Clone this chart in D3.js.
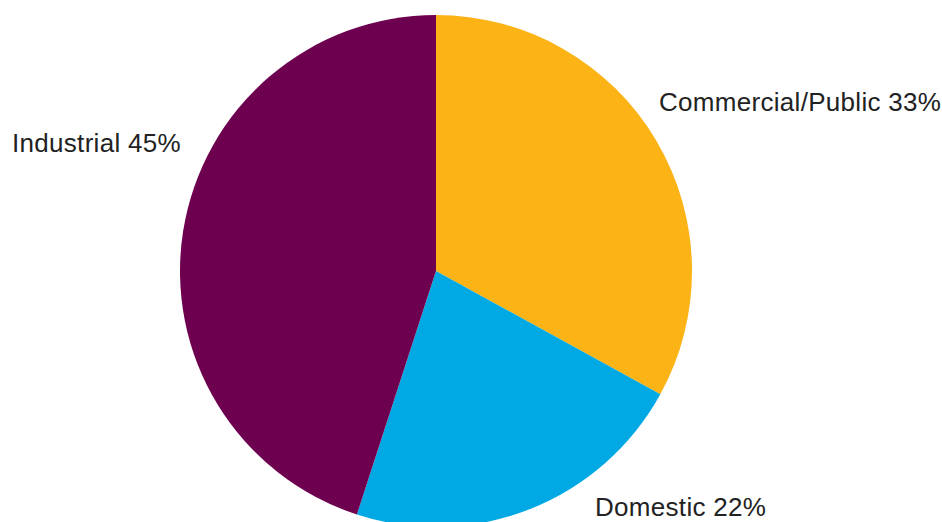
<!DOCTYPE html>
<html>
<head>
<meta charset="utf-8">
<script src="https://cdn.jsdelivr.net/npm/d3@7"></script>
<style>
  html, body { margin: 0; padding: 0; background: #fff; }
  svg { display: block; }
  text { font-family: "Liberation Sans", Arial, Helvetica, sans-serif; }
</style>
</head>
<body>
<svg id="chart" width="942" height="522"></svg>
<script>
const categories = ["Commercial/Public", "Domestic", "Industrial"];
const values = [33, 22, 45];
const colors = ["#FBB316", "#00A9E4", "#6E0050"];

// layout (not data)
const W = 942, H = 522;
const cx = 436, cy = 271, R = 256;
const labelPos = [
  { x: 659, y: 111, anchor: "start" },
  { x: 595, y: 516, anchor: "start" },
  { x: 12,  y: 152, anchor: "start" }
];

const svg = d3.select("#chart");
const g = svg.append("g").attr("transform", `translate(${cx},${cy})`);

const data = categories.map((c, i) => ({ name: c, value: values[i], color: colors[i], i }));
const pie = d3.pie().value(d => d.value).sort(null);
const arc = d3.arc().innerRadius(0).outerRadius(R);

g.selectAll("path")
  .data(pie(data))
  .join("path")
  .attr("d", arc)
  .attr("fill", d => d.data.color);

svg.selectAll("text.lbl")
  .data(data)
  .join("text")
  .attr("class", "lbl")
  .attr("x", d => labelPos[d.i].x)
  .attr("y", d => labelPos[d.i].y)
  .attr("text-anchor", d => labelPos[d.i].anchor)
  .attr("font-size", 26)
  .attr("letter-spacing", 0.3)
  .attr("fill", "#222")
  .text(d => `${d.name} ${d.value}%`);
</script>
</body>
</html>
